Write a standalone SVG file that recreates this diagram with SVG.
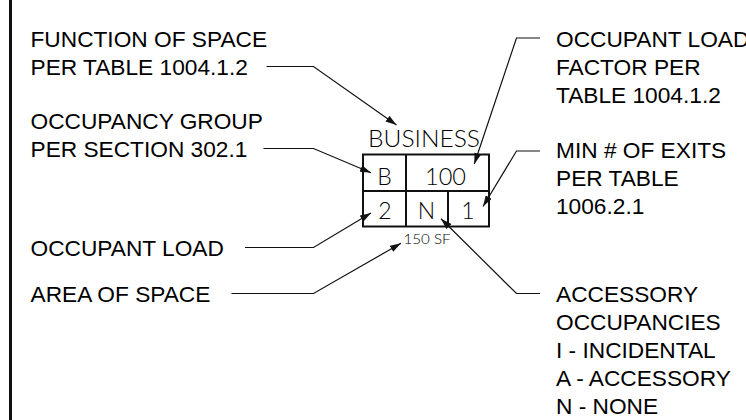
<svg xmlns="http://www.w3.org/2000/svg" width="746" height="420" viewBox="0 0 746 420">
<style>
.lbl{font-family:"Liberation Sans",Arial,sans-serif;font-size:22.7px;fill:#000;}
.cell{font-family:Lato,"DejaVu Sans",sans-serif;font-weight:300;font-size:23px;fill:#000;text-anchor:middle;}
.ld{fill:none;stroke:#111;stroke-width:1.2;marker-end:url(#ah);}
.tb{fill:none;stroke:#111;stroke-width:2;}
</style>
<defs>
<marker id="ah" markerUnits="userSpaceOnUse" markerWidth="12" markerHeight="7" refX="11" refY="3.5" orient="auto">
<path d="M0,0 L11,3.5 L0,7 z" fill="#111"/>
</marker>
</defs>
<rect width="746" height="420" fill="#fff"/>
<line x1="10.5" y1="0" x2="10.5" y2="420" stroke="#111" stroke-width="3"/>

<g id="table">
<rect class="tb" x="363" y="154.5" width="126" height="72"/>
<line class="tb" x1="363" y1="191" x2="489" y2="191"/>
<line class="tb" x1="406" y1="154.5" x2="406" y2="226.5"/>
<line class="tb" x1="448" y1="191" x2="448" y2="226.5"/>
<text class="cell" x="424" y="146.5" textLength="112" lengthAdjust="spacingAndGlyphs">BUSINESS</text>
<text class="cell" x="384.5" y="184.5">B</text>
<text class="cell" x="445.5" y="184.5" textLength="41" lengthAdjust="spacingAndGlyphs">100</text>
<text class="cell" x="385" y="218.5">2</text>
<text class="cell" x="426.5" y="218.5">N</text>
<text class="cell" x="468" y="218.5">1</text>
<text class="cell" x="427" y="243.5" style="font-size:14.5px" textLength="47" lengthAdjust="spacingAndGlyphs">150 SF</text>
</g>

<g id="function-label">
<text class="lbl" x="30.5" y="46.5">FUNCTION OF SPACE</text>
<text class="lbl" x="30.5" y="74.5">PER TABLE 1004.1.2</text>
</g>
<g id="group-label">
<text class="lbl" x="30.5" y="129">OCCUPANCY GROUP</text>
<text class="lbl" x="30.5" y="157">PER SECTION 302.1</text>
</g>
<g id="load-label">
<text class="lbl" x="30.5" y="255.5">OCCUPANT LOAD</text>
</g>
<g id="area-label">
<text class="lbl" x="30.5" y="301.5">AREA OF SPACE</text>
</g>
<g id="factor-label">
<text class="lbl" x="556" y="46.5">OCCUPANT LOAD</text>
<text class="lbl" x="556" y="74.5">FACTOR PER</text>
<text class="lbl" x="556" y="102.5">TABLE 1004.1.2</text>
</g>
<g id="exits-label">
<text class="lbl" x="556" y="158">MIN # OF EXITS</text>
<text class="lbl" x="556" y="186">PER TABLE</text>
<text class="lbl" x="556" y="214">1006.2.1</text>
</g>
<g id="accessory-label">
<text class="lbl" x="556" y="301.5">ACCESSORY</text>
<text class="lbl" x="556" y="329.7">OCCUPANCIES</text>
<text class="lbl" x="556" y="358">I - INCIDENTAL</text>
<text class="lbl" x="556" y="386">A - ACCESSORY</text>
<text class="lbl" x="556" y="414">N - NONE</text>
</g>

<g id="connectors">
<polyline class="ld" points="266.5,66.5 313.5,66.5 396.5,125"/>
<polyline class="ld" points="263.5,148.5 313.5,148.5 371,172.7"/>
<polyline class="ld" points="245,247.5 313.5,247.5 371,213"/>
<polyline class="ld" points="231.5,293.5 313.5,293.5 401,243.3"/>
<polyline class="ld" points="540,38 516.5,38 474.3,164"/>
<polyline class="ld" points="540,151 516.5,151 483,206.5"/>
<polyline class="ld" points="540,293.5 516.5,293.5 441,218.7"/>
</g>
</svg>
